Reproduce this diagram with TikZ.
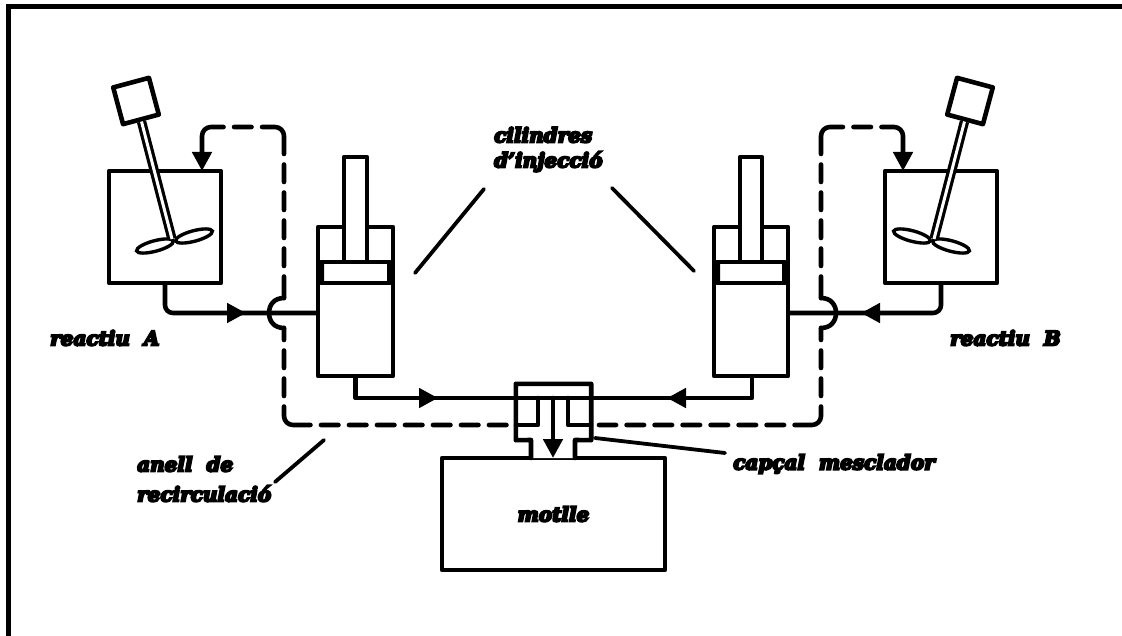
\documentclass[tikz,border=0pt]{standalone}
\usepackage{fontspec}
\setmainfont{DejaVu Serif}[BoldItalicFeatures={FakeBold=10,WordSpace=2}]
\usetikzlibrary{arrows.meta,shapes.geometric}
\tikzset{
 every picture/.style={x=1pt,y=-1pt},
 ln/.style={line width=4.6pt,line join=round,line cap=round},
 box/.style={ln,draw,rectangle,inner sep=0pt,fill=white},
 blade/.style={draw,ellipse,line width=3.4pt,inner sep=0pt,minimum width=38pt,minimum height=10.5pt},
 shaft/.style={line width=3.2pt,double,double distance=3pt},
 dashtop/.style={ln,dash pattern=on 21.5pt off 10.5pt on 17.5pt off 10.5pt on 17.5pt off 10.5pt on 17.5pt off 10.5pt on 17.5pt off 10.5pt on 45pt off 10.5pt on 17.5pt off 10.5pt on 80pt,rounded corners=9pt},
 dashbot/.style={ln,dash pattern=on 12pt off 10.5pt on 17.5pt off 10.5pt on 17.5pt off 10.5pt on 41pt off 10.5pt on 17.5pt off 10.5pt on 17.5pt off 10.5pt on 17.5pt off 10.5pt on 17.5pt off 10.5pt on 17.5pt off 10.5pt on 17.5pt off 10.5pt on 17.5pt off 30pt,rounded corners=9pt},
 tip/.style={-{Triangle[length=19pt,width=19pt]},ln},
 leader/.style={line width=3.8pt,line cap=round},
 lbl/.style={inner sep=0pt,align=left,font=\fontsize{20}{30}\selectfont\bfseries\itshape},
}
\begin{document}
\begin{tikzpicture}
\useasboundingbox (0,0) rectangle (1122,636);
% frame
\coordinate (fa) at (8,640); \coordinate (fb) at (8,7); \coordinate (fc) at (1126,7);
\draw[line width=5pt] (fa) -- (fb) -- (fc);
% mould
\node[box,minimum width=223pt,minimum height=112pt] (mould) at (553.5,514) {};
\node[lbl] (tm) at (553.5,514) {motlle};
% tanks
\node[box,minimum width=112pt,minimum height=112pt] (tankA) at (165,227) {};
\node[box,minimum width=112pt,minimum height=112pt] (tankB) at (941,227) {};
% motors
\node[box,rotate=15,minimum width=37pt,minimum height=38pt] (motA) at (136,101) {};
\node[box,rotate=-15,minimum width=37pt,minimum height=38pt] (motB) at (970,101) {};
% blades
\node[blade,rotate=15] (bA1) at (155,246) {};
\node[blade,rotate=15] (bA2) at (194,236) {};
\node[blade,rotate=-15] (bB1) at (912,236) {};
\node[blade,rotate=-15] (bB2) at (951,246) {};
\coordinate (hA) at (172,239); \coordinate (hB) at (934,239);
\draw[shaft] (motA.south) -- (hA);
\draw[shaft] (motB.south) -- (hB);
% cylinders
\node[box,minimum width=75pt,minimum height=149pt] (cylA) at (355.5,301.5) {};
\node[box,minimum width=74pt,minimum height=149pt] (cylB) at (751,301.5) {};
\node[box,minimum width=23pt,minimum height=105pt] (rodA) at (355.5,209.5) {};
\node[box,minimum width=22pt,minimum height=105pt] (rodB) at (751,209.5) {};
\node[box,minimum width=69pt,minimum height=21pt] (pisA) at (355.5,272.5) {};
\node[box,minimum width=68pt,minimum height=21pt] (pisB) at (751,272.5) {};
\fill (318,262) rectangle (324,283) (387,262) rectangle (393,283);
\fill (714,262) rectangle (720,283) (782,262) rectangle (788,283);
% feed lines
\coordinate (fA1) at (165,313); \coordinate (fA2) at (246,313);
\coordinate (fB1) at (941,313); \coordinate (fB2) at (861,313);
\draw[ln,rounded corners=8pt] (tankA.south) -- (fA1) -- (cylA.west |- fA1);
\draw[ln,rounded corners=8pt] (tankB.south) -- (fB1) -- (cylB.east |- fB1);
\draw[tip] (fA1) ++(40,0) -- (fA2);
\draw[tip] (fB1) ++(-40,0) -- (fB2);
% head
\node[minimum width=75pt,minimum height=56pt,inner sep=0pt] (head) at (553.5,412) {};
\coordinate (nL) at (531,440); \coordinate (nR) at (575,440);
\coordinate (mL) at (531,458); \coordinate (mR) at (575,458);
\coordinate (iL) at (538,398); \coordinate (iR) at (568,398);
\coordinate (cT) at (553,398); \coordinate (cB) at (553,458);
\coordinate (lA) at (516,425); \coordinate (lB) at (591,425);
\draw[ln,fill=white] (mL) -- (nL) -- (head.south west) -- (head.north west) -- (head.north east) -- (head.south east) -- (nR) -- (mR);
% outlets
\coordinate (oA) at (355.5,398); \coordinate (oB) at (752,398);
\coordinate (aA) at (438,398); \coordinate (aB) at (667,398);
\draw[ln] (cylA.south -| oA) -- (oA) -- (oB) -- (cylB.south -| oB);
\draw[tip] (400,398) -- (aA);
\draw[tip] (705,398) -- (aB);
\draw[ln] (lA) -| (iL);
\draw[ln] (lB) -| (iR);
\draw[tip] (cT) -- (cB);
% recirculation
\coordinate (rA1) at (284,298); \coordinate (rA2) at (284,328);
\coordinate (rB1) at (821,298); \coordinate (rB2) at (821,328);
\coordinate (rAt) at (284,127); \coordinate (rAu) at (202,127); \coordinate (rAe) at (202,171);
\coordinate (rBt) at (821,127); \coordinate (rBu) at (903,127); \coordinate (rBe) at (903,171);
\coordinate (rAm) at (202,154); \coordinate (rBm) at (903,154);
\coordinate (rAb) at (284,425); \coordinate (rBb) at (821,425);
\coordinate (dA) at (508,425); \coordinate (dB) at (599,425);
\draw[dashtop] (rA1) -- (rAt) -- (rAu) -- (rAm);
\draw[dashtop] (rB1) -- (rBt) -- (rBu) -- (rBm);
\draw[tip] (rAm) -- (rAe);
\draw[tip] (rBm) -- (rBe);
\draw[dashbot] (rA2) -- (rAb) -- (dA);
\draw[dashbot] (rB2) -- (rBb) -- (dB);
\draw[ln] (rA1) .. controls (274,298) and (269,305) .. (269,313) .. controls (269,321) and (274,328) .. (rA2);
\draw[ln] (rB1) .. controls (831,298) and (836,305) .. (836,313) .. controls (836,321) and (831,328) .. (rB2);
% labels
\node[lbl,anchor=west] (tc) at (494,149.5) {cilindres\\[-5pt]d'injecció};
\node[lbl,anchor=west] (tra) at (50,338) {reactiu A};
\node[lbl,anchor=west] (trb) at (950,338) {reactiu B};
\node[lbl,anchor=west] (tan) at (137,479) {anell de\\recirculació};
\node[lbl,anchor=west] (tcap) at (733,464) {capçal mesclador};
% leaders
\coordinate (c1) at (415,273); \coordinate (c1e) at (484,189);
\coordinate (c2) at (694,271); \coordinate (c2e) at (612,188);
\coordinate (l1) at (275,482); \coordinate (l1e) at (324,440);
\coordinate (l2) at (725,453); \coordinate (l2e) at (595,438);
\draw[leader] (c1e) -- (c1);
\draw[leader] (c2e) -- (c2);
\draw[leader] (l1) -- (l1e);
\draw[leader] (l2) -- (l2e);
\end{tikzpicture}
\end{document}
